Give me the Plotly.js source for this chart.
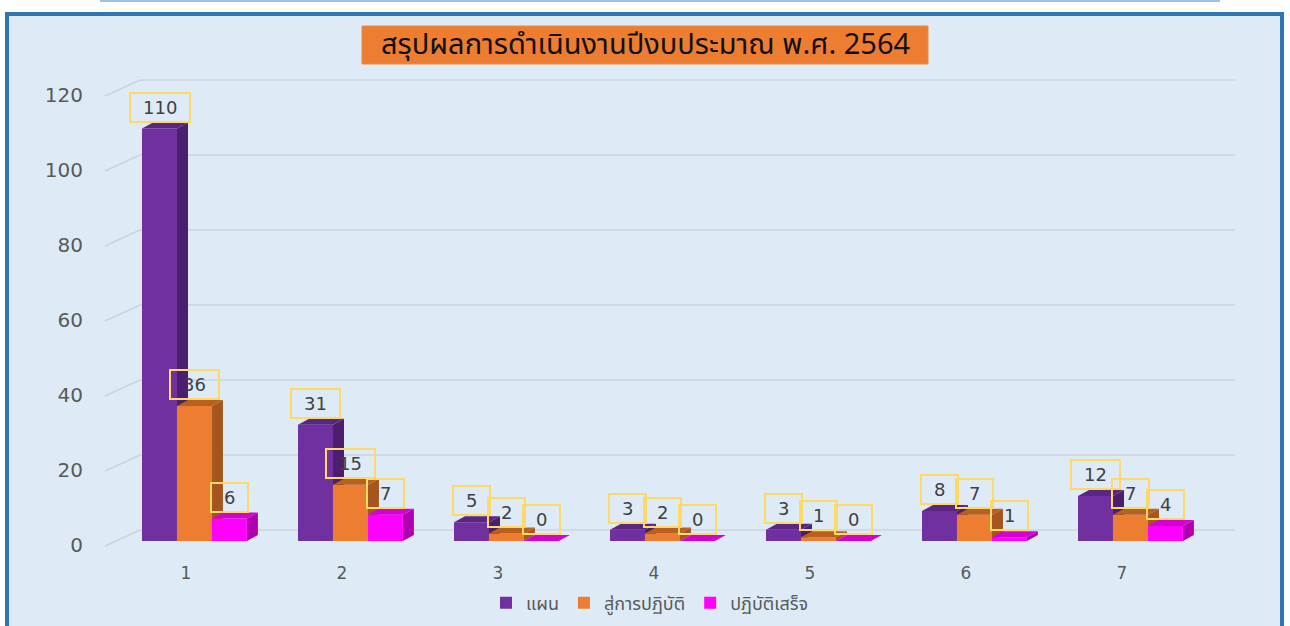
<!DOCTYPE html>
<html>
<head>
<meta charset="utf-8">
<script src="https://cdn.plot.ly/plotly-3.0.1.min.js"></script>
<style>html,body{margin:0;padding:0;background:#fff;}#chart{width:1290px;height:626px;}</style>
</head>
<body>
<div id="chart"></div>
<script>
const categories = ['1', '2', '3', '4', '5', '6', '7'];
const planValues = [110, 31, 5, 3, 3, 8, 12];
const actionValues = [36, 15, 2, 2, 1, 7, 7];
const doneValues = [6, 7, 0, 0, 0, 1, 4];
const seriesNames = ['แผน', 'สู่การปฏิบัติ', 'ปฏิบัติเสร็จ'];
const yTicks = [0, 20, 40, 60, 80, 100, 120];
const chartTitle = 'สรุปผลการดำเนินงานปีงบประมาณ พ.ศ. 2564';

// styling
const frontColors = ['#7030A0', '#ED7D31', '#FF00FF'];
const sideColors = ['#4B1F6E', '#A5561F', '#B000B0'];
const topColors = ['#5A2686', '#B9601F', '#D400D4'];
const L = 108, R = 90, T = 91, B = 85, FW = 1290, FH = 626;
const W = FW - L - R, H = FH - T - B;
const PX = x => (x - L) / W;
const PY = y => ((FH - B) - y) / H;
const barWidth = 0.2244;
const offsets = [-0.282, -0.058, 0.166];
const depthX = 0.0705;   // 3D depth in category units
const depthY = 1.6;      // 3D depth in value units
const yMax = 120;
const pxPerUnit = H / yMax;
const fontFam = "'DejaVu Sans', Verdana, sans-serif";
const thaiFam = "Tahoma, 'Noto Sans Thai', 'Noto Sans', 'DejaVu Sans', sans-serif";

const allSeries = [planValues, actionValues, doneValues];
const xPos = categories.map((c, i) => i + 1);

const traces = allSeries.map((vals, k) => ({
  type: 'bar',
  name: seriesNames[k],
  x: xPos,
  y: vals,
  width: barWidth,
  offset: offsets[k],
  marker: {color: frontColors[k], line: {width: 0}},
  hoverinfo: 'skip'
}));

const shapes = [];
// frame
shapes.push({type: 'line', xref: 'paper', yref: 'paper', x0: PX(100), x1: PX(1220), y0: PY(1), y1: PY(1),
  line: {color: '#9DC3E6', width: 2}, layer: 'below'});
shapes.push({type: 'rect', xref: 'paper', yref: 'paper', x0: PX(7), x1: PX(1282), y0: PY(14), y1: PY(660),
  fillcolor: '#DEEBF7', line: {color: '#2E75B6', width: 4}, layer: 'below'});
// title box
shapes.push({type: 'rect', xref: 'paper', yref: 'paper', x0: PX(362), x1: PX(928), y0: PY(26), y1: PY(64),
  fillcolor: '#ED7D31', line: {color: '#F08A45', width: 1}, layer: 'below'});
// back-wall gridlines and slanted stubs
yTicks.forEach(t => {
  const fy = (FH - B) - t * pxPerUnit;
  shapes.push({type: 'line', xref: 'paper', yref: 'paper', x0: PX(140), x1: PX(1235), y0: PY(fy - 11), y1: PY(fy - 11),
    line: {color: '#CCD3DB', width: 1.4}, layer: 'below'});
  shapes.push({type: 'line', xref: 'paper', yref: 'paper', x0: PX(105), x1: PX(140), y0: PY(fy + 5), y1: PY(fy - 11),
    line: {color: '#CCD3DB', width: 1.4}, layer: 'below'});
});
// 3D side & top faces
allSeries.forEach((vals, k) => {
  vals.forEach((v, i) => {
    const xl = xPos[i] + offsets[k];
    const xr = xl + barWidth;
    shapes.push({type: 'path', xref: 'x', yref: 'y', layer: 'between',
      path: `M${xr},0 L${xr + depthX},${depthY} L${xr + depthX},${v + depthY} L${xr},${v} Z`,
      fillcolor: sideColors[k], line: {width: 0}});
    shapes.push({type: 'path', xref: 'x', yref: 'y', layer: 'above',
      path: `M${xl},${v} L${xl + depthX},${v + depthY} L${xr + depthX},${v + depthY} L${xr},${v} Z`,
      fillcolor: topColors[k], line: {width: 0}});
  });
});

const annotations = [];
allSeries.forEach((vals, k) => {
  vals.forEach((v, i) => {
    annotations.push({
      x: xPos[i] + offsets[k] + barWidth / 2, y: v, xref: 'x', yref: 'y',
      text: '\u2002' + v + '\u2002', showarrow: false, yanchor: 'bottom', yshift: 6,
      font: {family: fontFam, size: 18, color: '#404040'},
      bordercolor: '#FFD966', borderwidth: 2, borderpad: 3, bgcolor: 'rgba(0,0,0,0)'
    });
  });
});
annotations.push({
  xref: 'paper', yref: 'paper', x: PX(645), y: PY(45), xanchor: 'center', yanchor: 'middle',
  text: chartTitle, showarrow: false, font: {family: thaiFam, size: 29, color: '#111111'}
});

const layout = {
  width: FW, height: FH,
  margin: {l: L, r: R, t: T, b: B, pad: 0, autoexpand: false},
  paper_bgcolor: '#FFFFFF', plot_bgcolor: 'rgba(0,0,0,0)',
  barmode: 'overlay',
  showlegend: true,
  legend: {orientation: 'h', x: PX(650), xanchor: 'center', y: PY(603), yanchor: 'middle',
    font: {family: thaiFam, size: 18, color: '#595959'}, bgcolor: 'rgba(0,0,0,0)', itemwidth: 30},
  xaxis: {range: [0.5, 7.5], tickvals: xPos, ticktext: categories, showgrid: false, zeroline: false,
    showline: false, ticks: '', ticklabelstandoff: 20, fixedrange: true, automargin: false,
    tickfont: {family: fontFam, size: 17, color: '#595959'}},
  yaxis: {range: [0, yMax], tickvals: yTicks, showgrid: false, zeroline: false, showline: false,
    ticks: '', ticklabelstandoff: 24, ticklabelshift: 4, fixedrange: true, automargin: false,
    tickfont: {family: fontFam, size: 20, color: '#595959'}},
  shapes: shapes,
  annotations: annotations
};

Plotly.newPlot('chart', traces, layout, {displayModeBar: false, staticPlot: true});
</script>
</body>
</html>
